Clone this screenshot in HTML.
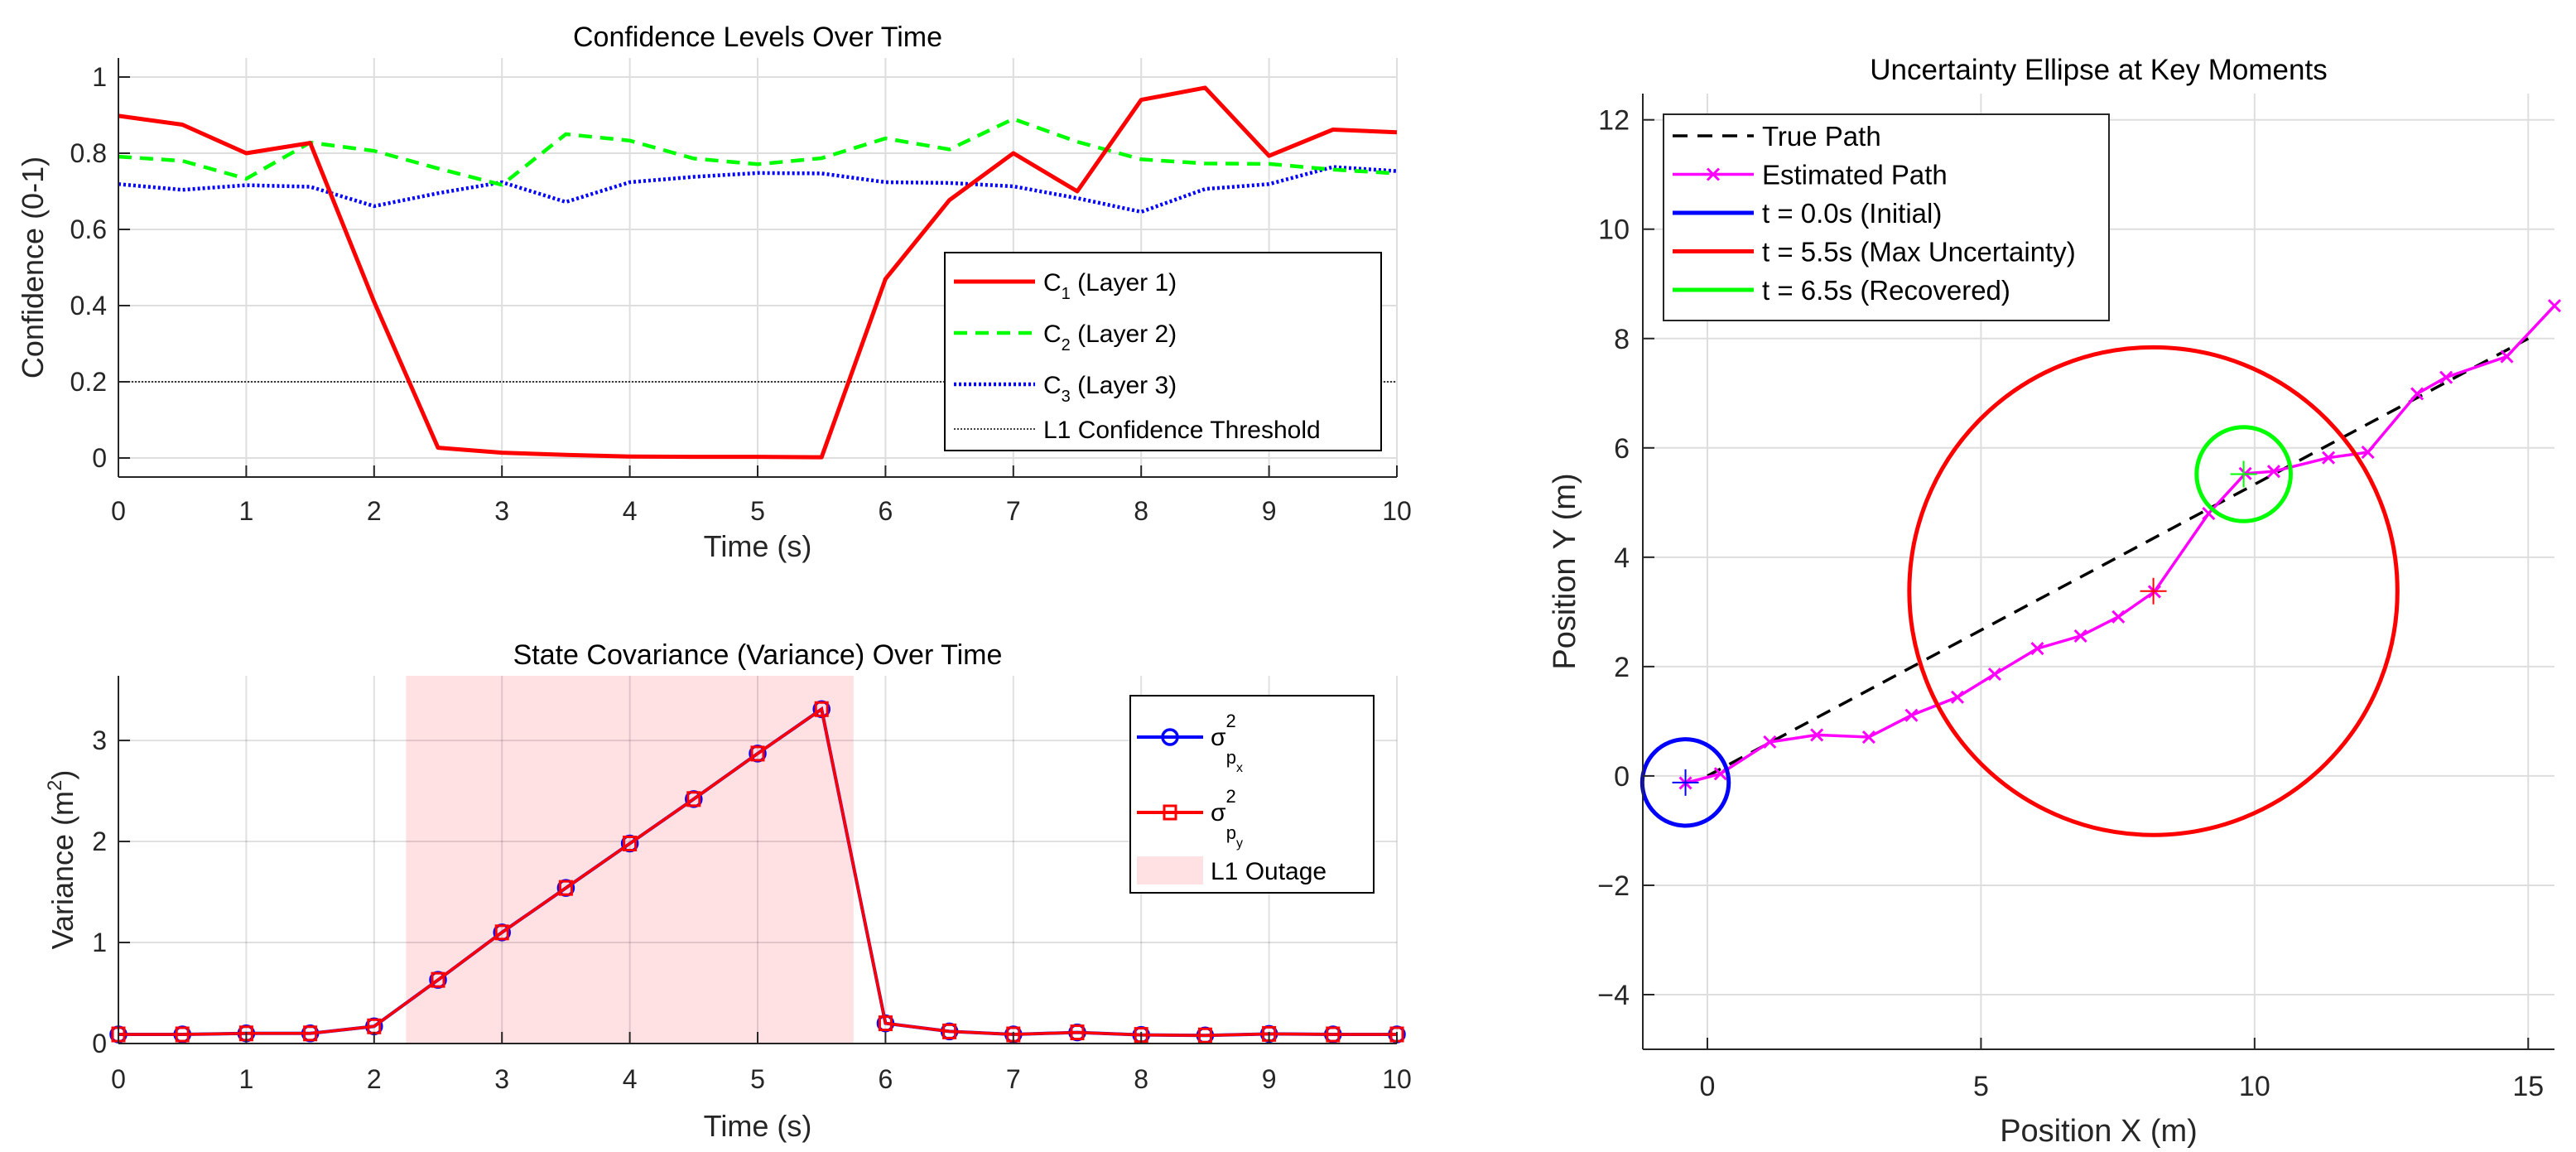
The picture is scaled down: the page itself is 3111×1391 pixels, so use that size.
<!DOCTYPE html>
<html><head><meta charset="utf-8">
<style>
html,body{margin:0;padding:0;background:#fff;}
svg{display:block;font-family:"Liberation Sans",Arial,sans-serif;}
</style></head>
<body>
<svg id="fig" width="3111" height="1391" viewBox="0 0 3111 1391" xmlns="http://www.w3.org/2000/svg">
<rect x="0" y="0" width="3111" height="1391" fill="#fff"/>
<g id="p1"></g>
<g id="p2"></g>
<g id="p3"></g>
</svg>
<script>
const times = [0,0.5,1,1.5,2,2.5,3,3.5,4,4.5,5,5.5,6,6.5,7,7.5,8,8.5,9,9.5,10];
const c1Values = [0.898,0.875,0.80,0.827,0.41,0.027,0.014,0.008,0.004,0.003,0.003,0.002,0.47,0.677,0.80,0.70,0.94,0.972,0.793,0.862,0.855];
const c2Values = [0.791,0.78,0.733,0.828,0.806,0.76,0.717,0.85,0.833,0.786,0.771,0.787,0.839,0.81,0.89,0.83,0.784,0.773,0.772,0.757,0.747];
const c3Values = [0.719,0.704,0.716,0.712,0.661,0.695,0.724,0.672,0.724,0.738,0.748,0.747,0.724,0.722,0.713,0.682,0.646,0.706,0.719,0.764,0.753];
const thresholdValue = 0.2;
const confYTicks = [0,0.2,0.4,0.6,0.8,1];
const timeTicks = [0,1,2,3,4,5,6,7,8,9,10];
const varPx = [0.09,0.09,0.1,0.1,0.17,0.63,1.10,1.54,1.98,2.42,2.87,3.31,0.2,0.12,0.09,0.11,0.085,0.08,0.095,0.09,0.09];
const varPy = [0.09,0.09,0.1,0.1,0.17,0.63,1.10,1.54,1.98,2.42,2.87,3.31,0.2,0.12,0.09,0.11,0.085,0.08,0.095,0.09,0.09];
const outageRange = [2.25,5.75];
const varYTicks = [0,1,2,3];
const estX = [-0.40,0.24,1.14,2.00,2.95,3.73,4.57,5.25,6.03,6.82,7.51,8.17,9.16,9.83,10.35,11.35,12.07,12.97,13.50,14.61,15.48];
const estY = [-0.13,0.04,0.62,0.75,0.71,1.11,1.44,1.86,2.33,2.56,2.91,3.37,4.80,5.53,5.57,5.82,5.92,6.99,7.29,7.67,8.60];
const trueX = [0,15];
const trueY = [0,8];
const ellipseCx = [-0.40,8.15,9.80];
const ellipseCy = [-0.12,3.38,5.52];
const ellipseR = [0.79,4.46,0.86];
const ellipseColors = ['#0000ff','#ff0000','#00ff00'];
const posXTicks = [0,5,10,15];
const posYTicks = [-4,-2,0,2,4,6,8,10,12];

const NS='http://www.w3.org/2000/svg';
function mk(parent,tag,attrs,text){const e=document.createElementNS(NS,tag);for(const k in attrs)e.setAttribute(k,attrs[k]);if(text!==undefined)e.textContent=text;parent.appendChild(e);return e;}
function lin(d0,d1,r0,r1){return v=>r0+(v-d0)*(r1-r0)/(d1-d0);}
function pts(xs,ys,sx,sy){return xs.map((x,i)=>sx(x).toFixed(1)+','+sy(ys[i]).toFixed(1)).join(' ');}
const AX='#262626', GRID='#dedede';

/* ---------- Panel 1 ---------- */
(function(){
const g=document.getElementById('p1');
const L=143,R=1687,T=70,B=576;
const sx=lin(0,10,L,R), sy=lin(-0.05,1.05,B,T);
for(const t of timeTicks){const l=mk(g,'line',{x1:sx(t),x2:sx(t),y1:T,y2:B,stroke:GRID,'stroke-width':2});

}
for(const v of confYTicks){const l=mk(g,'line',{x1:L,x2:R,y1:sy(v),y2:sy(v),stroke:GRID,'stroke-width':2});

}
const th=mk(g,'line',{x1:L,x2:R,y1:sy(thresholdValue),y2:sy(thresholdValue),stroke:'#000','stroke-width':1.5,'stroke-dasharray':'2 2'});


const l3=mk(g,'polyline',{points:pts(times,c3Values,sx,sy),fill:'none',stroke:'#0000ff','stroke-width':4.5,'stroke-dasharray':'3 3'});


const l2=mk(g,'polyline',{points:pts(times,c2Values,sx,sy),fill:'none',stroke:'#00ff00','stroke-width':4.5,'stroke-dasharray':'16 10'});


const l1=mk(g,'polyline',{points:pts(times,c1Values,sx,sy),fill:'none',stroke:'#ff0000','stroke-width':5,'stroke-linejoin':'round'});


mk(g,'line',{x1:L,x2:L,y1:T,y2:B,stroke:AX,'stroke-width':2});
mk(g,'line',{x1:L,x2:R,y1:B,y2:B,stroke:AX,'stroke-width':2});
for(const t of timeTicks){mk(g,'line',{x1:sx(t),x2:sx(t),y1:B,y2:B-14,stroke:AX,'stroke-width':2});
const tx=mk(g,'text',{x:sx(t),y:628,'font-size':32,'text-anchor':'middle',fill:AX},String(t));

}
for(const v of confYTicks){mk(g,'line',{x1:L,x2:L+14,y1:sy(v),y2:sy(v),stroke:AX,'stroke-width':2});
const tx=mk(g,'text',{x:L-14,y:sy(v)+11,'font-size':32,'text-anchor':'end',fill:AX},String(v));

}
mk(g,'text',{x:(L+R)/2,y:56,'font-size':34,'text-anchor':'middle',fill:'#000',},'Confidence Levels Over Time');
mk(g,'text',{x:(L+R)/2,y:672,'font-size':36,'text-anchor':'middle',fill:AX,},'Time (s)');
mk(g,'text',{x:52,y:(T+B)/2,'font-size':36,'text-anchor':'middle',fill:AX,transform:'rotate(-90 52 '+(T+B)/2+')',},'Confidence (0-1)');
const lg=mk(g,'g',{});
mk(lg,'rect',{x:1141,y:305,width:527,height:239,fill:'#fff',stroke:'#000','stroke-width':2});
const rows=[['#ff0000','none',5,'1','Layer 1'],['#00ff00','16 10',4.5,'2','Layer 2'],['#0000ff','3 3',4.5,'3','Layer 3']];
rows.forEach((r,i)=>{const y=340+i*62;
mk(lg,'line',{x1:1152,x2:1250,y1:y,y2:y,stroke:r[0],'stroke-width':r[2],'stroke-dasharray':r[1]});
const t=mk(lg,'text',{x:1260,y:y+11,'font-size':30,fill:'#000',});
t.innerHTML='C<tspan font-size="20" dy="10">'+r[3]+'</tspan><tspan dy="-10"> ('+r[4]+')</tspan>';});
mk(lg,'line',{x1:1152,x2:1250,y1:518,y2:518,stroke:'#000','stroke-width':1.5,'stroke-dasharray':'2 2'});
mk(lg,'text',{x:1260,y:529,'font-size':30,fill:'#000',},'L1 Confidence Threshold');
})();

/* ---------- Panel 2 ---------- */
(function(){
const g=document.getElementById('p2');
const L=143,R=1687,T=816,B=1260;
const sx=lin(0,10,L,R), sy=lin(0,3.64,B,T);
const sh=mk(g,'rect',{x:sx(outageRange[0]),y:T,width:sx(outageRange[1])-sx(outageRange[0]),height:B-T,fill:'#ffe0e3'});


for(const t of timeTicks){mk(g,'line',{x1:sx(t),x2:sx(t),y1:T,y2:B,stroke:'rgba(0,0,0,0.12)','stroke-width':2});}
for(const v of varYTicks){mk(g,'line',{x1:L,x2:R,y1:sy(v),y2:sy(v),stroke:'rgba(0,0,0,0.12)','stroke-width':2});}
const bl=mk(g,'polyline',{points:pts(times,varPx,sx,sy),fill:'none',stroke:'#0000ff','stroke-width':4});


times.forEach((t,i)=>{const c=mk(g,'circle',{cx:sx(t),cy:sy(varPx[i]),r:9,fill:'none',stroke:'#0000ff','stroke-width':3.5});

});
const rl=mk(g,'polyline',{points:pts(times,varPy,sx,sy),fill:'none',stroke:'#ff0000','stroke-width':3.5});


times.forEach((t,i)=>{const s=mk(g,'rect',{x:sx(t)-7,y:sy(varPy[i])-8,width:14,height:16,fill:'none',stroke:'#ff0000','stroke-width':3});

});
mk(g,'line',{x1:L,x2:L,y1:T,y2:B,stroke:AX,'stroke-width':2});
mk(g,'line',{x1:L,x2:R,y1:B,y2:B,stroke:AX,'stroke-width':2});
for(const t of timeTicks){mk(g,'line',{x1:sx(t),x2:sx(t),y1:B,y2:B-14,stroke:AX,'stroke-width':2});
const tx=mk(g,'text',{x:sx(t),y:1314,'font-size':32,'text-anchor':'middle',fill:AX},String(t));

}
for(const v of varYTicks){mk(g,'line',{x1:L,x2:L+14,y1:sy(v),y2:sy(v),stroke:AX,'stroke-width':2});
const tx=mk(g,'text',{x:L-14,y:sy(v)+11,'font-size':32,'text-anchor':'end',fill:AX},String(v));

}
mk(g,'text',{x:(L+R)/2,y:802,'font-size':34,'text-anchor':'middle',fill:'#000',},'State Covariance (Variance) Over Time');
mk(g,'text',{x:(L+R)/2,y:1372,'font-size':36,'text-anchor':'middle',fill:AX,},'Time (s)');
const yt=mk(g,'text',{x:88,y:(T+B)/2,'font-size':36,'text-anchor':'middle',fill:AX,transform:'rotate(-90 88 '+(T+B)/2+')',});
yt.innerHTML='Variance (m<tspan font-size="24" dy="-14">2</tspan><tspan dy="14">)</tspan>';
const lg=mk(g,'g',{});
mk(lg,'rect',{x:1365,y:840,width:294,height:238,fill:'#fff',stroke:'#000','stroke-width':2});
mk(lg,'line',{x1:1373,x2:1453,y1:890,y2:890,stroke:'#0000ff','stroke-width':4});
mk(lg,'circle',{cx:1413,cy:890,r:9,fill:'none',stroke:'#0000ff','stroke-width':3.5});
const t1=mk(lg,'text',{x:1462,y:900,'font-size':30,fill:'#000',});
t1.innerHTML='σ<tspan font-size="22" dy="-22">2</tspan><tspan font-size="22" dx="-12" dy="44">p</tspan><tspan font-size="16" dy="10">x</tspan>';
mk(lg,'line',{x1:1373,x2:1453,y1:981,y2:981,stroke:'#ff0000','stroke-width':4});
mk(lg,'rect',{x:1406,y:973,width:14,height:16,fill:'none',stroke:'#ff0000','stroke-width':3});
const t2=mk(lg,'text',{x:1462,y:991,'font-size':30,fill:'#000',});
t2.innerHTML='σ<tspan font-size="22" dy="-22">2</tspan><tspan font-size="22" dx="-12" dy="44">p</tspan><tspan font-size="16" dy="10">y</tspan>';
mk(lg,'rect',{x:1373,y:1034,width:80,height:34,fill:'#ffe0e3'});
mk(lg,'text',{x:1462,y:1062,'font-size':30,fill:'#000',},'L1 Outage');
})();

/* ---------- Panel 3 ---------- */
(function(){
const g=document.getElementById('p3');
const L=1984,R=3085,T=113,B=1267;
const sx=lin(-1.18,15.48,L,R), sy=lin(-5,12.48,B,T);
for(const v of posXTicks){mk(g,'line',{x1:sx(v),x2:sx(v),y1:T,y2:B,stroke:GRID,'stroke-width':2});}
for(const v of posYTicks){mk(g,'line',{x1:L,x2:R,y1:sy(v),y2:sy(v),stroke:GRID,'stroke-width':2});}
const tp=mk(g,'polyline',{points:pts(trueX,trueY,sx,sy),fill:'none',stroke:'#000','stroke-width':3.5,'stroke-dasharray':'18 12'});


const ep=mk(g,'polyline',{points:pts(estX,estY,sx,sy),fill:'none',stroke:'#ff00ff','stroke-width':3.5});


estX.forEach((x,i)=>{const X=sx(x),Y=sy(estY[i]);
const m=mk(g,'path',{d:`M${X-7},${Y-7}L${X+7},${Y+7}M${X-7},${Y+7}L${X+7},${Y-7}`,stroke:'#ff00ff','stroke-width':3});

});
ellipseCx.forEach((cx,i)=>{
const c=mk(g,'ellipse',{cx:sx(cx),cy:sy(ellipseCy[i]),rx:sx(cx+ellipseR[i])-sx(cx),ry:sy(ellipseCy[i])-sy(ellipseCy[i]+ellipseR[i]),fill:'none',stroke:ellipseColors[i],'stroke-width':5});


const X=sx(cx),Y=sy(ellipseCy[i]);
const p=mk(g,'path',{d:`M${X-16},${Y}L${X+16},${Y}M${X},${Y-16}L${X},${Y+16}`,stroke:ellipseColors[i],'stroke-width':2});

});
mk(g,'line',{x1:L,x2:L,y1:T,y2:B,stroke:AX,'stroke-width':2});
mk(g,'line',{x1:L,x2:R,y1:B,y2:B,stroke:AX,'stroke-width':2});
for(const v of posXTicks){mk(g,'line',{x1:sx(v),x2:sx(v),y1:B,y2:B-14,stroke:AX,'stroke-width':2});
const tx=mk(g,'text',{x:sx(v),y:1323,'font-size':34,'text-anchor':'middle',fill:AX},String(v));

}
for(const v of posYTicks){mk(g,'line',{x1:L,x2:L+14,y1:sy(v),y2:sy(v),stroke:AX,'stroke-width':2});
const tx=mk(g,'text',{x:L-16,y:sy(v)+12,'font-size':34,'text-anchor':'end',fill:AX},v<0?'\u2212'+(-v):String(v));

}
mk(g,'text',{x:(L+R)/2,y:96,'font-size':35,'text-anchor':'middle',fill:'#000',},'Uncertainty Ellipse at Key Moments');
mk(g,'text',{x:(L+R)/2,y:1378,'font-size':38,'text-anchor':'middle',fill:AX,},'Position X (m)');
mk(g,'text',{x:1902,y:690,'font-size':38,'text-anchor':'middle',fill:AX,transform:'rotate(-90 1902 690)',},'Position Y (m)');
const lg=mk(g,'g',{});
mk(lg,'rect',{x:2009,y:138,width:538,height:249,fill:'#fff',stroke:'#262626','stroke-width':2});
const items=[['#000','18 12','True Path'],['#ff00ff','none','Estimated Path'],['#0000ff','none','t = 0.0s (Initial)'],['#ff0000','none','t = 5.5s (Max Uncertainty)'],['#00ff00','none','t = 6.5s (Recovered)']];
items.forEach((it,i)=>{const y=164+i*46.5;
mk(lg,'line',{x1:2020,x2:2118,y1:y,y2:y,stroke:it[0],'stroke-width':i<2?3.5:5,'stroke-dasharray':it[1]});
if(i===1)mk(lg,'path',{d:`M2062,${y-7}L2076,${y+7}M2062,${y+7}L2076,${y-7}`,stroke:'#ff00ff','stroke-width':3});
mk(lg,'text',{x:2128,y:y+12,'font-size':33,fill:'#000',},it[2]);});
})();
</script>
</body></html>
